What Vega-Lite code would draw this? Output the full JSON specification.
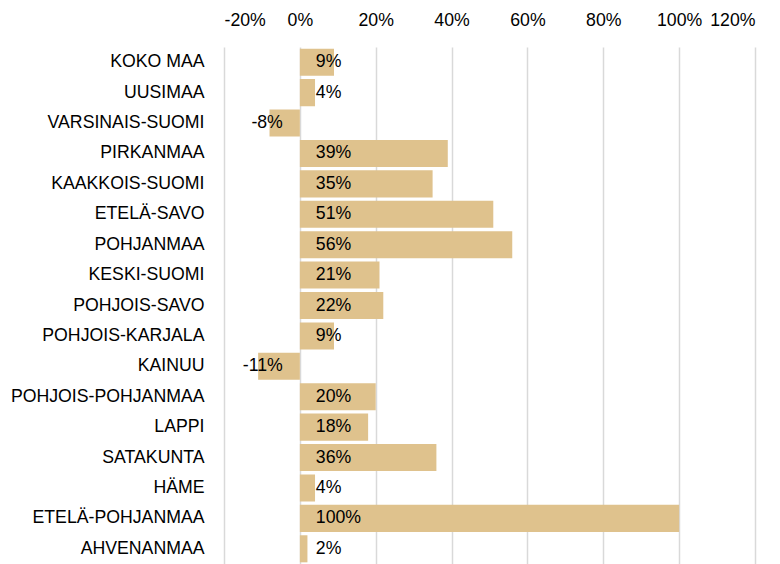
{
  "$schema": "https://vega.github.io/schema/vega-lite/v6.json",
  "width": 531,
  "height": 517,
  "autosize": {"type": "none"},
  "padding": {"left": 224, "top": 47, "right": 25, "bottom": 0},
  "background": "white",
  "config": {
    "view": {"stroke": null},
    "font": "Liberation Sans",
    "axis": {"labelFont": "Liberation Sans", "labelColor": "#000000"},
    "locale": {
      "number": {
        "decimal": ".",
        "thousands": ",",
        "grouping": [3],
        "currency": ["$", ""],
        "minus": "-",
        "percent": "%"
      }
    }
  },
  "data": {
    "values": [
      {"region": "KOKO MAA", "value": 0.09},
      {"region": "UUSIMAA", "value": 0.04},
      {"region": "VARSINAIS-SUOMI", "value": -0.08},
      {"region": "PIRKANMAA", "value": 0.39},
      {"region": "KAAKKOIS-SUOMI", "value": 0.35},
      {"region": "ETELÄ-SAVO", "value": 0.51},
      {"region": "POHJANMAA", "value": 0.56},
      {"region": "KESKI-SUOMI", "value": 0.21},
      {"region": "POHJOIS-SAVO", "value": 0.22},
      {"region": "POHJOIS-KARJALA", "value": 0.09},
      {"region": "KAINUU", "value": -0.11},
      {"region": "POHJOIS-POHJANMAA", "value": 0.20},
      {"region": "LAPPI", "value": 0.18},
      {"region": "SATAKUNTA", "value": 0.36},
      {"region": "HÄME", "value": 0.04},
      {"region": "ETELÄ-POHJANMAA", "value": 1.00},
      {"region": "AHVENANMAA", "value": 0.02}
    ]
  },
  "encoding": {
    "y": {
      "field": "region",
      "type": "nominal",
      "sort": null,
      "scale": {"paddingInner": 0.11, "paddingOuter": 0.055},
      "axis": {
        "title": null,
        "domain": false,
        "ticks": false,
        "labelFontSize": 17.7,
        "labelPadding": 20,
        "labelLimit": 400,
        "labelColor": "#000000"
      }
    }
  },
  "layer": [
    {
      "mark": {"type": "bar", "color": "#DFC28D"},
      "encoding": {
        "x": {
          "field": "value",
          "type": "quantitative",
          "scale": {"domain": [-0.2, 1.2], "nice": false, "zero": false},
          "axis": {
            "orient": "top",
            "title": null,
            "format": ".0%",
            "values": [-0.2, 0, 0.2, 0.4, 0.6, 0.8, 1.0, 1.2],
            "domain": false,
            "ticks": false,
            "grid": true,
            "gridColor": "#d9d9d9",
            "gridWidth": 1.5,
            "labelFontSize": 17.7,
            "labelPadding": 18,
            "labelColor": "#000000"
          }
        }
      }
    },
    {
      "mark": {"type": "rule", "color": "#000000", "strokeWidth": 2},
      "encoding": {"x": {"datum": 0}}
    },
    {
      "transform": [{"filter": "datum.value >= 0"}],
      "mark": {"type": "text", "align": "left", "dx": 16, "fontSize": 17.7, "color": "#000000", "baseline": "middle"},
      "encoding": {
        "x": {"datum": 0},
        "text": {"field": "value", "type": "quantitative", "format": ".0%"}
      }
    },
    {
      "transform": [{"filter": "datum.value < 0"}],
      "mark": {"type": "text", "align": "right", "dx": -17, "fontSize": 17.7, "color": "#000000", "baseline": "middle"},
      "encoding": {
        "x": {"datum": 0},
        "text": {"field": "value", "type": "quantitative", "format": ".0%"}
      }
    }
  ]
}
